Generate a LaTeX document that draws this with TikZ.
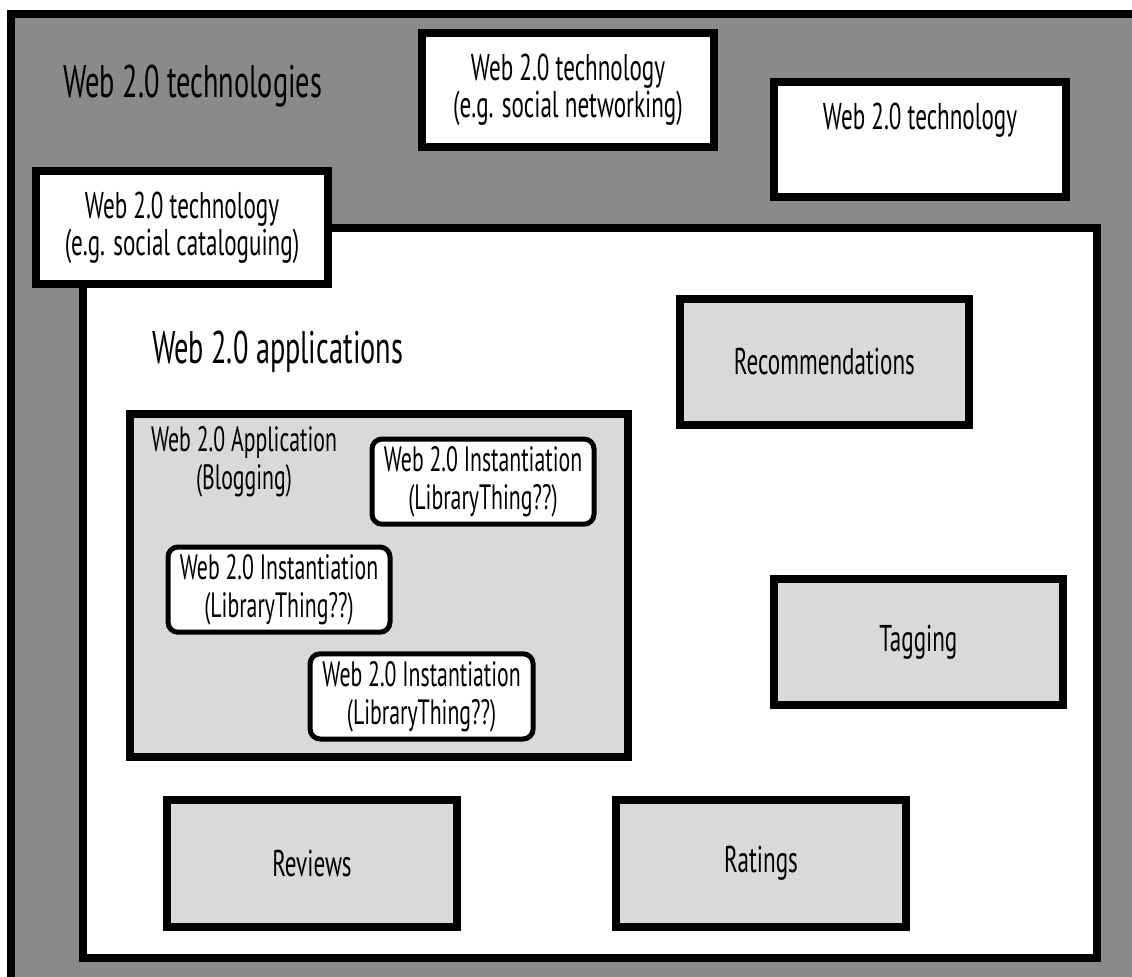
\documentclass[tikz,border=0pt]{standalone}
\usepackage{fontspec}
\setmainfont{PT Sans}[FakeStretch=0.62]
\usetikzlibrary{positioning}
\usepackage{xcolor}
\definecolor{framegray}{HTML}{8A8A8A}
\definecolor{boxgray}{HTML}{D9D9D9}

\begin{document}
\begin{tikzpicture}[
    every node/.style={font=\fontsize{26.5}{26.5}\selectfont, outer sep=0pt, inner sep=0pt},
    techbox/.style={rectangle, draw, line width=0.2cm, fill=white, align=center, minimum width=7.3cm, minimum height=2.85cm},
    appbox/.style={rectangle, draw, line width=0.2cm, fill=boxgray, align=center},
    featurebox/.style={rectangle, draw, line width=0.2cm, fill=boxgray, align=center, minimum width=7.225cm, minimum height=3.15cm},
    instbox/.style={rectangle, draw, line width=0.125cm, fill=white, rounded corners=0.25cm, align=center, minimum width=5.55cm, minimum height=2.13cm, font=\fontsize{25}{27}\selectfont},
    title/.style={anchor=west, font=\fontsize{32.5}{34}\selectfont}
]

% Page and outer frame
\useasboundingbox (0,0) rectangle (28.3,-24.4);
\clip (0,0) rectangle (28.3,-24.4);
\node[fill=white, minimum width=28.3cm, minimum height=24.4cm, anchor=north west] (page) at (0,0) {};
\node[draw, line width=0.2cm, fill=framegray, minimum width=29cm, minimum height=25cm, anchor=north west] (frame) at (0.275,-0.35) {};
\node[title] (techtitle) at (1.58,-2.15) {Web 2.0 technologies};

% Applications area
\node[rectangle, draw, line width=0.2cm, fill=white, minimum width=25.35cm, minimum height=18.25cm] (apps) at (14.75,-14.825) {};
\node[title] (appstitle) at (3.8,-8.8) {Web 2.0 applications};

% Technologies
\node[techbox, minimum height=2.83cm] (techcat) at (4.55,-5.69) {Web 2.0 technology\\(e.g. social cataloguing)};
\node[techbox] (technet) at (14.2,-2.25) {Web 2.0 technology\\(e.g. social networking)};
\node[techbox, minimum height=2.88cm] (techplain) at (23.0,-3.49) {Web 2.0 technology\\[0.25cm]~};

% Application with its instantiations
\node[appbox, minimum width=12.45cm, minimum height=8.58cm] (blog) at (9.475,-14.64) {};
\node[font=\fontsize{25}{27}\selectfont, align=center] (bloglabel) at (6.1,-11.55) {Web 2.0 Application\\(Blogging)};
\node[instbox] (inst1) at (12.075,-12.04) {Web 2.0 Instantiation\\(LibraryThing??)};
\node[instbox] (inst2) at (6.975,-14.74) {Web 2.0 Instantiation\\(LibraryThing??)};
\node[instbox, minimum width=5.575cm] (inst3) at (10.54,-17.41) {Web 2.0 Instantiation\\(LibraryThing??)};

% Features
\node[featurebox] (recomm) at (20.61,-9.05) {Recommendations};
\node[featurebox] (tagging) at (22.96,-16.05) {Tagging};
\node[featurebox, minimum width=7.25cm, minimum height=3.175cm] (reviews) at (7.8,-21.59) {Reviews};
\node[featurebox, minimum width=7.25cm, minimum height=3.175cm] (ratings) at (19.025,-21.59) {Ratings};

\end{tikzpicture}
\end{document}
